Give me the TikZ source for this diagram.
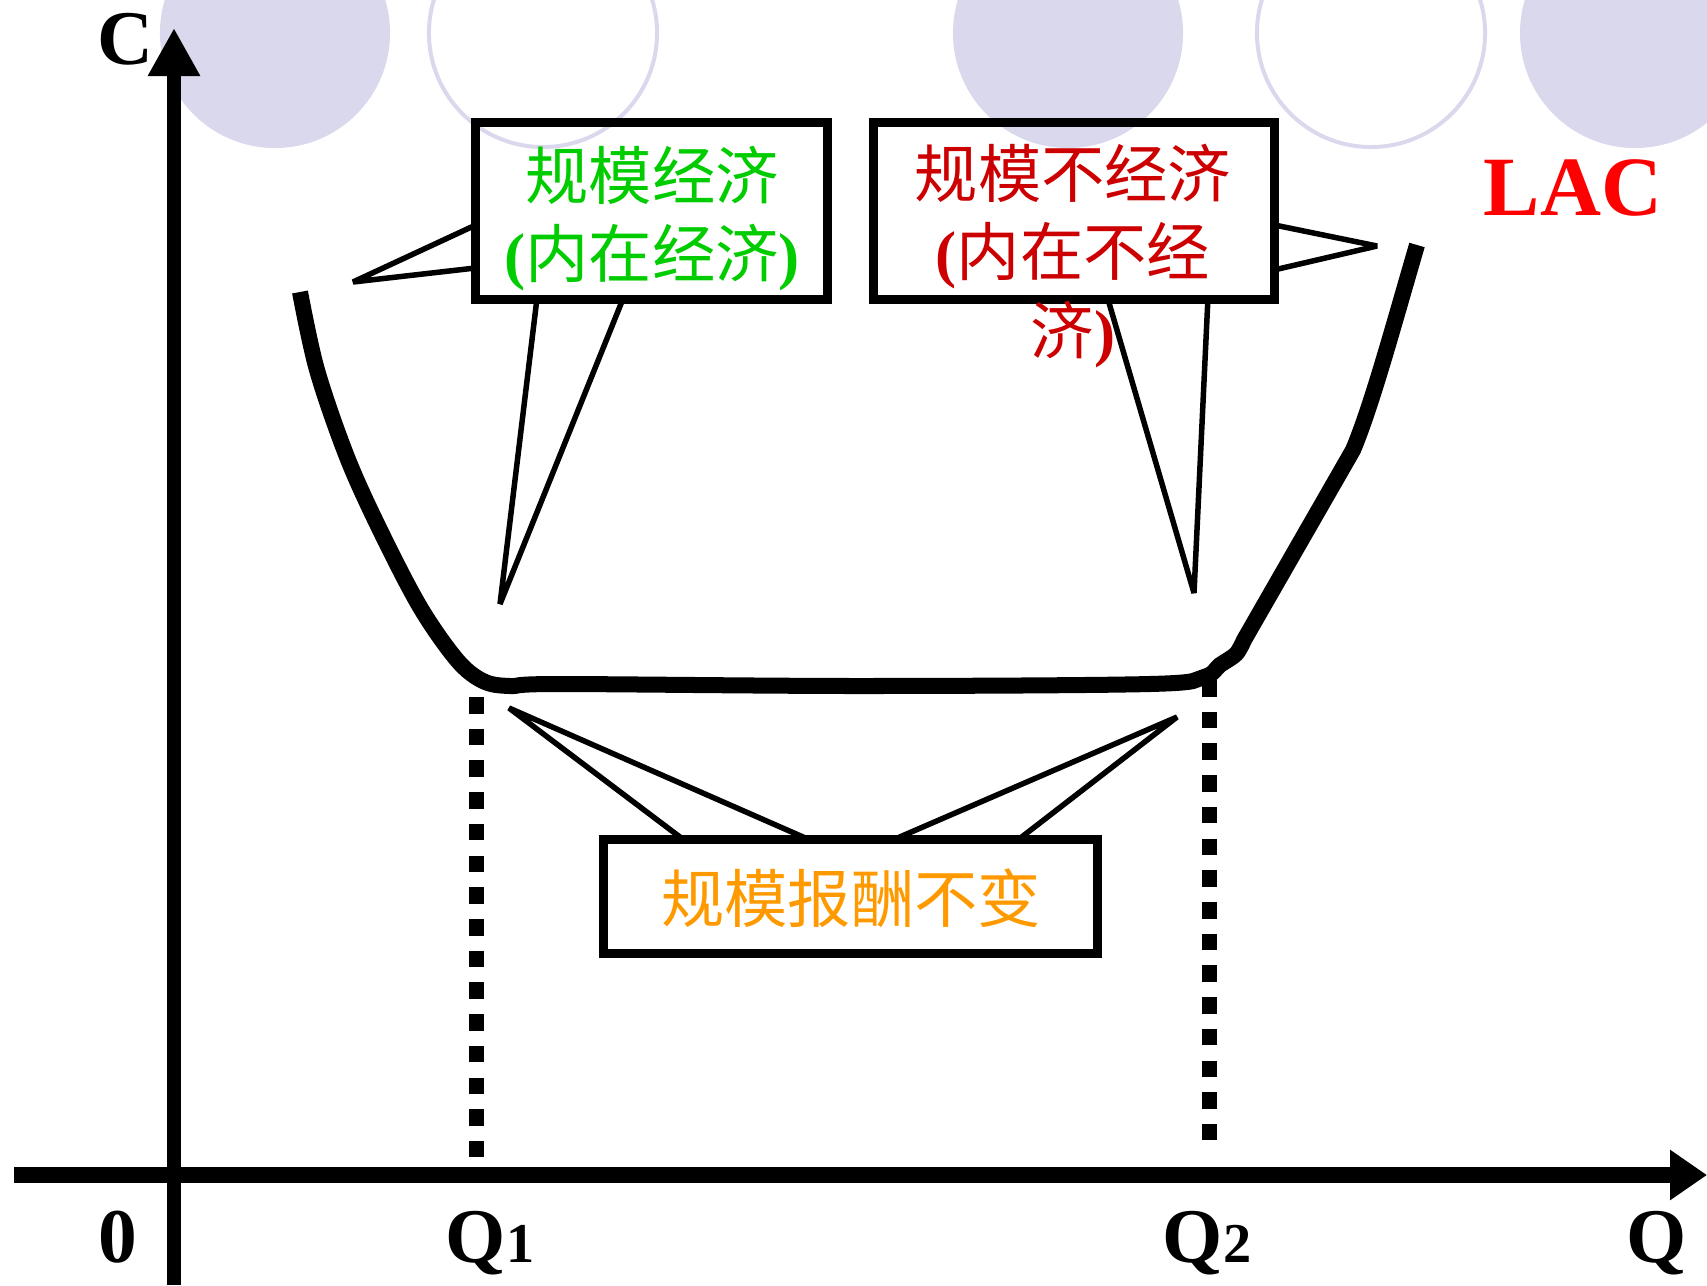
\documentclass[tikz,border=0pt]{standalone}
\usepackage{fontspec}
\setmainfont{Liberation Serif}
\newfontfamily\cjk{Noto Sans CJK SC}
\usetikzlibrary{arrows.meta,calc}
\definecolor{lavender}{RGB}{218,216,236}
\definecolor{ecogreen}{RGB}{0,204,0}
\definecolor{disred}{RGB}{204,0,0}
\definecolor{lacred}{RGB}{255,0,0}
\definecolor{crsorange}{RGB}{255,153,0}
\newcommand{\serifpar}[1]{{\rmfamily\bfseries #1}}

\begin{document}
\begin{tikzpicture}[x=0.01cm, y=-0.01cm]
    \tikzstyle{callbox}=[draw, rectangle, line width=0.09cm, inner sep=0pt, outer sep=0pt]
    \tikzstyle{pointer}=[line width=0.055cm, line join=bevel]
    \tikzstyle{guide}=[line width=0.15cm, dash pattern=on 0.165cm off 0.152cm]
    \tikzstyle{axislabel}=[font=\bfseries\fontsize{22}{26}\selectfont, inner sep=0pt]
    \tikzstyle{boxtext}=[align=center, inner sep=0pt, font=\cjk\fontsize{18}{22.2}\selectfont]
    \useasboundingbox (0,0) rectangle (1707,1285);
    \clip (0,0) rectangle (1707,1285);
    \fill[lavender] (275,33) circle (1.15cm);
    \draw[lavender, line width=0.04cm] (543,33) circle (1.14cm);
    \fill[lavender] (1068,33) circle (1.15cm);
    \draw[lavender, line width=0.04cm] (1371,33) circle (1.14cm);
    \fill[lavender] (1635,33) circle (1.15cm);
    \coordinate (ybot) at (174,1285);
    \coordinate (ytop) at (174,28);
    \coordinate (xleft) at (14,1175);
    \coordinate (xright) at (1707,1175);
    \draw[line width=0.14cm, -{Triangle[length=0.48cm,width=0.49cm]}] (ybot) -- (ytop);
    \draw[line width=0.16cm, -{Triangle[length=0.37cm,width=0.48cm]}] (xleft) -- (xright);
    \node[axislabel] (clabel) at (125,39) {C};
    \node[axislabel, anchor=base] (zero) at (118,1262) {0};
    \node[axislabel, anchor=base] (q1) at (490,1262) {Q{\fontsize{16}{18}\selectfont 1}};
    \node[axislabel, anchor=base] (q2) at (1207,1262) {Q{\fontsize{16}{18}\selectfont 2}};
    \node[axislabel, anchor=base] (qlabel) at (1657,1262) {Q};
    \node[font=\bfseries\fontsize{24}{28}\selectfont, text=lacred, inner sep=0pt] (lac) at (1573,188) {LAC};
    \draw[line width=0.16cm] plot[smooth, tension=0.55] coordinates {(300,292) (317,370) (347,457) (380,530) (420,607) (457,660) (483,681) (510,686) (560,684) (858,686) (1150,684) (1204,677) (1220,665) (1236,654) (1244,640)}
        -- (1353,450) .. controls (1372,405) and (1395,320) .. (1417,245);
    \coordinate (q1top) at (476,697);
    \coordinate (q1foot) at (476,1157);
    \coordinate (q2top) at (1209,680);
    \coordinate (q2foot) at (1209,1140);
    \draw[guide] (q1top) -- (q1foot);
    \draw[guide] (q2top) -- (q2foot);
    \node[callbox, minimum width=3.51cm, minimum height=1.76cm] (eco) at (651.5,211) {};
    \node[callbox, minimum width=4.00cm, minimum height=1.76cm] (dis) at (1074,211) {};
    \node[callbox, minimum width=4.93cm, minimum height=1.13cm] (crs) at (850.5,896.5) {};
    \node[boxtext, text=ecogreen] (ecotext) at (652,219) {规模经济\\\serifpar{(}内在经济\serifpar{)}};
    \node[boxtext, text=disred] (distext) at (1073,256) {规模不经济\\\serifpar{(}内在不经\\济\serifpar{)}};
    \node[boxtext, text=crsorange] (crstext) at (851,898) {规模报酬不变};
    \coordinate (ecoleft) at (353,282);
    \coordinate (ecodown) at (500,604);
    \coordinate (disright) at (1377,246);
    \coordinate (disdown) at (1194,593);
    \coordinate (crsleft) at (509,708);
    \coordinate (crsright) at (1177,717);
    \draw[pointer] ($(eco.north west)+(0,102)$) -- (ecoleft) -- ($(eco.north west)+(0,145)$);
    \draw[pointer] ($(eco.south west)+(61,0)$) -- (ecodown) -- ($(eco.south west)+(147,0)$);
    \draw[pointer] ($(dis.north east)+(0,102)$) -- (disright) -- ($(dis.north east)+(0,147)$);
    \draw[pointer] ($(dis.south west)+(234,0)$) -- (disdown) -- ($(dis.south west)+(334,0)$);
    \draw[pointer] ($(crs.north west)+(80,0)$) -- (crsleft) -- ($(crs.north west)+(206,0)$);
    \draw[pointer] ($(crs.north west)+(289,0)$) -- (crsright) -- ($(crs.north west)+(414,0)$);
\end{tikzpicture}
\end{document}
